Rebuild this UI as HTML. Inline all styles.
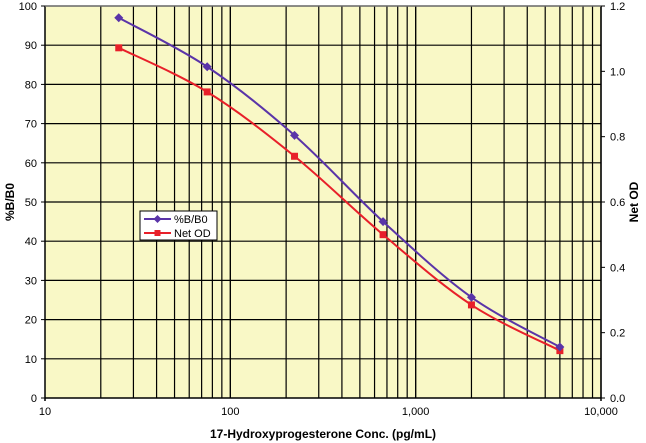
<!DOCTYPE html>
<html><head><meta charset="utf-8"><style>
body{margin:0;background:#fff;}
svg{display:block;font-family:"Liberation Sans",sans-serif;}
</style></head><body>
<svg id="c" width="646" height="443"></svg>
<script>
const concs=[25,75,222,667,2000,6000];
const bb0=[97,84.5,67,45,25.7,13];
const netOD=[1.072,0.937,0.74,0.50,0.285,0.145];
const yLeftTicks=[0,10,20,30,40,50,60,70,80,90,100];
const yRightTicks=["0.0","0.2","0.4","0.6","0.8","1.0","1.2"];
const xTickLabels=["10","100","1,000","10,000"];
const L=45,R=601,T=6,B=398;
const NS="http://www.w3.org/2000/svg";
const svg=document.getElementById('c');
function X(v){return L+(Math.log10(v)-1)/3*(R-L);}
function YL(v){return B-v/100*(B-T);}
function YR(v){return B-v/1.2*(B-T);}
function mk(t,a,p){const e=document.createElementNS(NS,t);for(const k in a)e.setAttribute(k,a[k]);(p||svg).appendChild(e);return e;}
const bg=mk('rect',{x:L,y:T,width:R-L,height:B-T,fill:'#f9f8c6'});


const grid=mk('g',{stroke:'#000','stroke-width':1.2});


for(let d=1;d<=3;d++)for(let m=1;m<=10;m++){if(m===1&&d===1)continue;const v=m*Math.pow(10,d);const x=X(v);mk('line',{x1:x,x2:x,y1:T,y2:B},grid);}
yLeftTicks.forEach(v=>{if(v>0&&v<100)mk('line',{x1:L,x2:R,y1:YL(v),y2:YL(v)},grid);});
const ax=mk('g',{stroke:'#000','stroke-width':1.5});


mk('line',{x1:L,x2:L,y1:T,y2:B+3},ax);mk('line',{x1:R,x2:R,y1:T,y2:B+3},ax);
mk('line',{x1:L,x2:R,y1:B,y2:B},ax);mk('line',{x1:L,x2:R,y1:T,y2:T,stroke:'#666'},ax);
const tk=mk('g',{'font-size':11,fill:'#000'});
yLeftTicks.forEach(v=>{mk('line',{x1:L-4,x2:L,y1:YL(v),y2:YL(v),stroke:'#000'},tk);const t=mk('text',{x:L-8,y:YL(v)+4,'text-anchor':'end'},tk);t.textContent=v;});
yRightTicks.forEach(s=>{const v=parseFloat(s);mk('line',{x1:R,x2:R+4,y1:YR(v),y2:YR(v),stroke:'#000'},tk);const t=mk('text',{x:R+9,y:YR(v)+4},tk);t.textContent=s;});
xTickLabels.forEach((s,i)=>{const t=mk('text',{x:X(Math.pow(10,i+1)),y:B+17,'text-anchor':'middle'},tk);t.textContent=s;});
function title(txt,a,name){const t=mk('text',Object.assign({'font-size':12,'font-weight':'bold','text-anchor':'middle'},a));t.textContent=txt;}
title('17-Hydroxyprogesterone Conc. (pg/mL)',{x:(L+R)/2,y:438},'x-axis-title');
title('%B/B0',{x:14,y:(T+B)/2,transform:`rotate(-90 14 ${(T+B)/2})`},'y-left-axis-title');
title('Net OD',{x:638,y:(T+B)/2,transform:`rotate(-90 638 ${(T+B)/2})`},'y-right-axis-title');
function spline(pts){let d=`M${pts[0][0]},${pts[0][1]}`;for(let i=0;i<pts.length-1;i++){const p0=pts[i-1]||pts[i],p1=pts[i],p2=pts[i+1],p3=pts[i+2]||p2;const t=6;d+=` C${p1[0]+(p2[0]-p0[0])/t},${p1[1]+(p2[1]-p0[1])/t} ${p2[0]-(p3[0]-p1[0])/t},${p2[1]-(p3[1]-p1[1])/t} ${p2[0]},${p2[1]}`;}return d;}
function series(vals,yf,color,shape,name){const g=mk('g');
const pts=concs.map((c,i)=>[X(c),yf(vals[i])]);mk('path',{d:spline(pts),fill:'none',stroke:color,'stroke-width':2},g);
pts.forEach(p=>{let m;if(shape==='d')m=mk('path',{d:`M${p[0]},${p[1]-4.5}L${p[0]+4.5},${p[1]}L${p[0]},${p[1]+4.5}L${p[0]-4.5},${p[1]}Z`,fill:color},g);else m=mk('rect',{x:p[0]-3.5,y:p[1]-3.5,width:7,height:7,fill:color},g);});}
series(netOD,YR,'#e8202a','s','net-od-series');
series(bb0,YL,'#5a34a8','d','b-b0-series');
const lg=mk('g');
mk('rect',{x:140,y:211,width:77,height:29,fill:'#fff',stroke:'#000','stroke-width':1},lg);
mk('line',{x1:144,x2:171,y1:219,y2:219,stroke:'#5a34a8','stroke-width':2},lg);
mk('path',{d:'M157.5,215L161.5,219L157.5,223L153.5,219Z',fill:'#5a34a8'},lg);
mk('line',{x1:144,x2:171,y1:233,y2:233,stroke:'#e8202a','stroke-width':2},lg);
mk('rect',{x:154.5,y:230,width:6,height:6,fill:'#e8202a'},lg);
const t1=mk('text',{x:174,y:223,'font-size':11},lg);t1.textContent='%B/B0';
const t2=mk('text',{x:174,y:237,'font-size':11},lg);t2.textContent='Net OD';
</script>
</body></html>
